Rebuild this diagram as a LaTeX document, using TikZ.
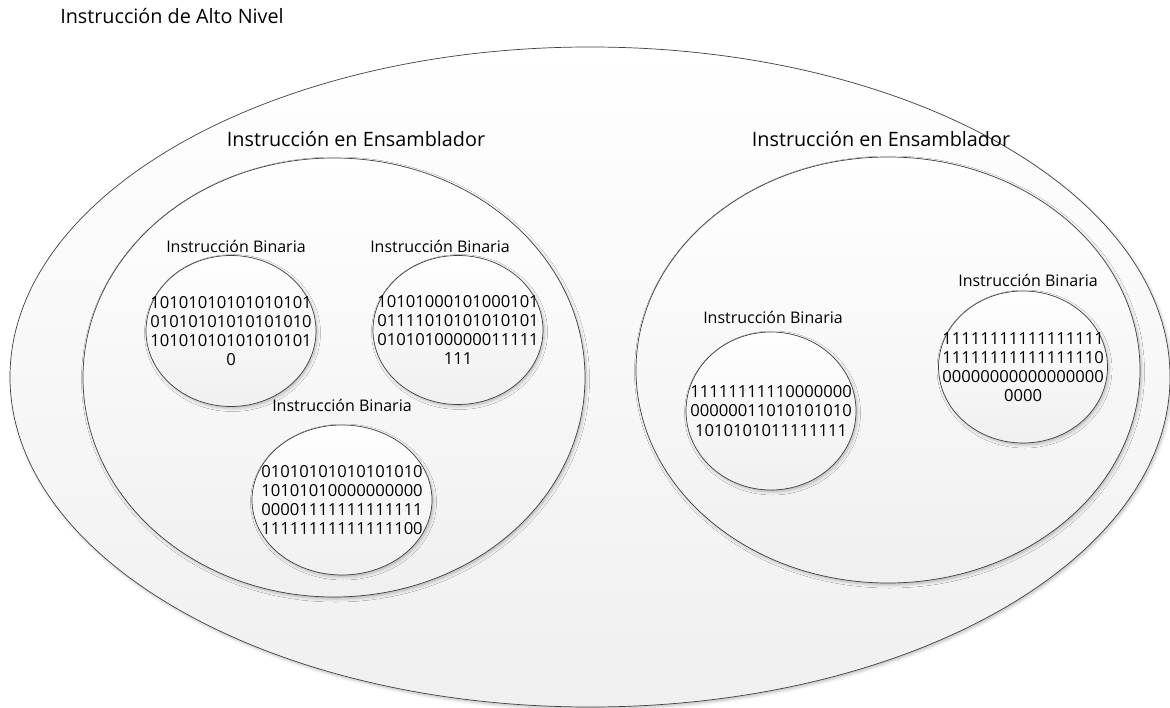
\documentclass[tikz,border=0pt]{standalone}
\usepackage{fontspec}
\setmainfont{Open Sans}
\usetikzlibrary{shapes.geometric,shadows.blur}

\tikzset{
  bubble/.style={ellipse, draw=black!75, line width=0.7pt, inner sep=0pt,
    top color=white, bottom color=black!6,
    blur shadow={shadow xshift=1.5pt, shadow yshift=-2pt,
                 shadow blur radius=3pt, shadow opacity=25}},
  biglbl/.style={font=\fontsize{19.8}{24}\selectfont, inner sep=0pt, anchor=base},
  binlbl/.style={font=\fontsize{16}{19}\selectfont, inner sep=0pt, anchor=base},
  bits/.style={font=\fontsize{16.6}{19.2}\selectfont, align=center, inner sep=0pt},
}

\begin{document}
\begin{tikzpicture}[x=1pt, y=-1pt]
  \useasboundingbox (0,0) rectangle (1170,708);

  % high-level instruction
  \node[bubble, minimum width=1160pt, minimum height=660pt] (alto) at (590,377) {};
  \node[biglbl] (altolbl) at (172,24) {Instrucción de Alto Nivel};

  % assembler instructions
  \node[bubble, minimum width=502pt, minimum height=439pt] (ensA) at (334,377.5) {};
  \node[biglbl] (ensAlbl) at (356,147) {Instrucción en Ensamblador};
  \node[bubble, minimum width=504pt, minimum height=426pt] (ensB) at (888,370) {};
  \node[biglbl] (ensBlbl) at (881,147) {Instrucción en Ensamblador};

  % binary instructions, left group
  \node[bubble, minimum width=170pt, minimum height=151pt] (binA) at (231,331) {};
  \node[binlbl] (binAlbl) at (236,253) {Instrucción Binaria};
  \node[bits] (binAtxt) at (binA.center) {10101010101010101\\01010101010101010\\10101010101010101\\0};

  \node[bubble, minimum width=170pt, minimum height=149pt] (binB) at (458,330) {};
  \node[binlbl] (binBlbl) at (440,253) {Instrucción Binaria};
  \node[bits] (binBtxt) at (binB.center) {10101000101000101\\01111010101010101\\01010100000011111\\111};

  \node[bubble, minimum width=180pt, minimum height=150pt] (binC) at (342,500) {};
  \node[binlbl] (binClbl) at (342,412) {Instrucción Binaria};
  \node[bits] (binCtxt) at (binC.center) {01010101010101010\\10101010000000000\\00001111111111111\\11111111111111100};

  % binary instructions, right group
  \node[bubble, minimum width=170pt, minimum height=158pt] (binD) at (771,411) {};
  \node[binlbl] (binDlbl) at (773,324) {Instrucción Binaria};
  \node[bits] (binDtxt) at (binD.center) {11111111110000000\\00000011010101010\\1010101011111111};

  \node[bubble, minimum width=169pt, minimum height=152pt] (binE) at (1023,367) {};
  \node[binlbl] (binElbl) at (1028,287) {Instrucción Binaria};
  \node[bits] (binEtxt) at (binE.center) {11111111111111111\\11111111111111110\\00000000000000000\\0000};
\end{tikzpicture}
\end{document}
